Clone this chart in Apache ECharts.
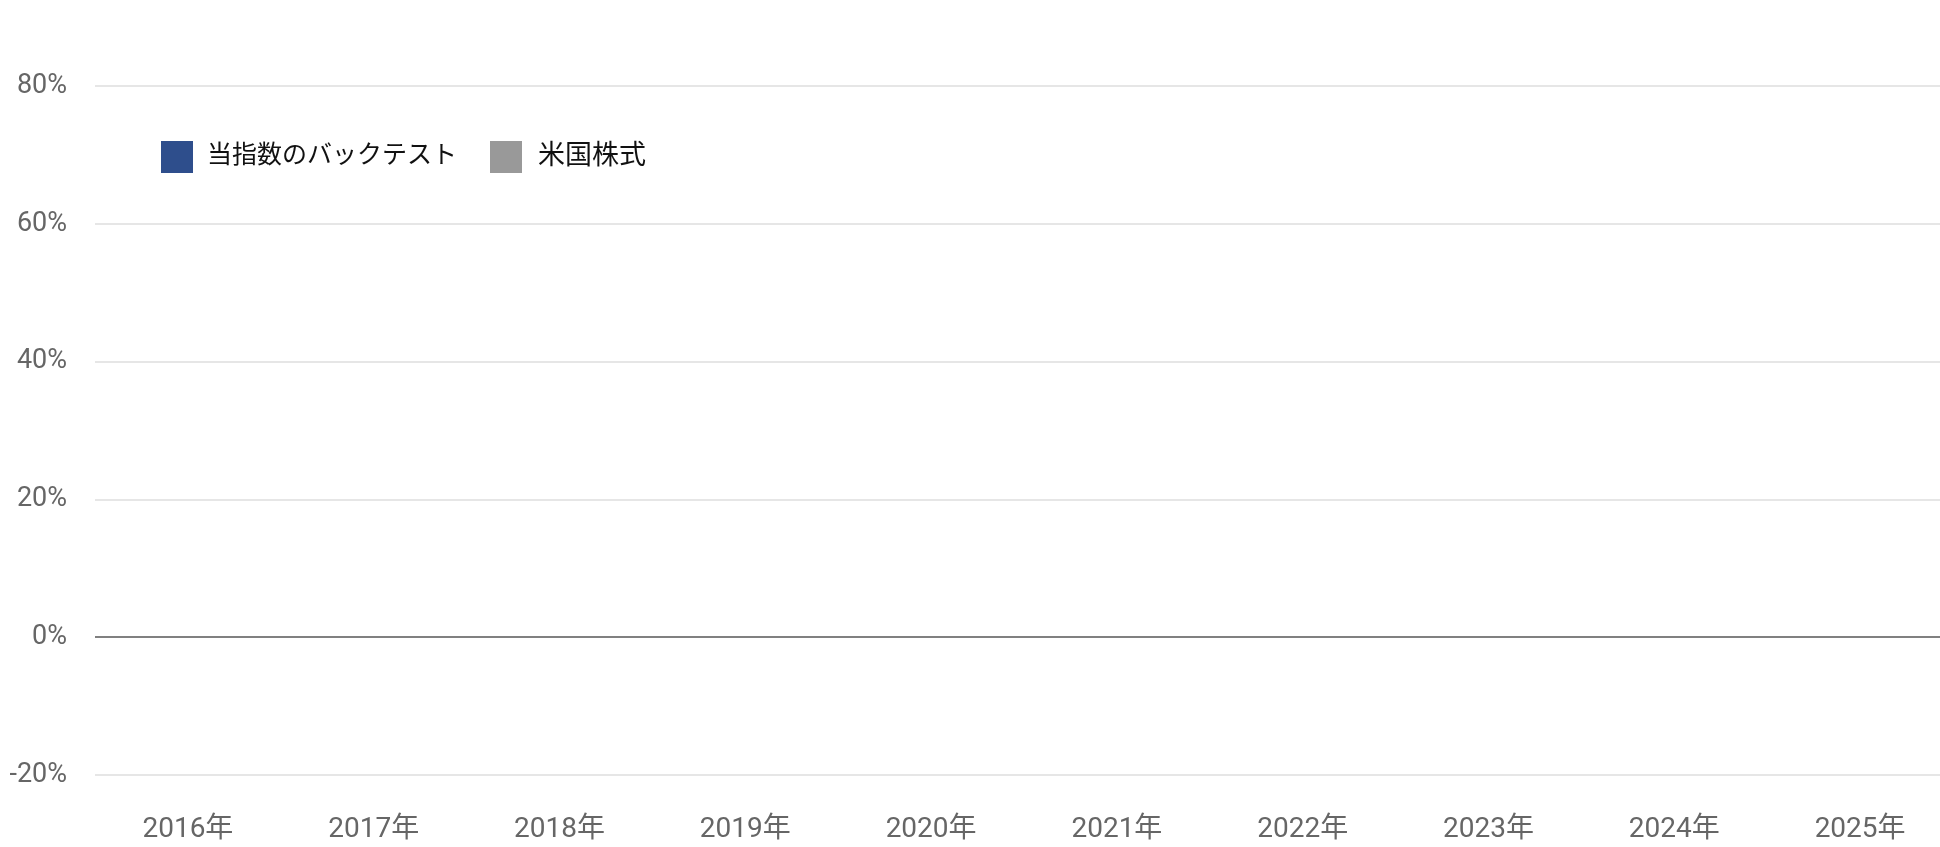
<!DOCTYPE html>
<html>
<head>
<meta charset="utf-8">
<script src="https://cdn.jsdelivr.net/npm/echarts@6/dist/echarts.min.js"></script>
<style>
html,body{margin:0;padding:0;background:#fff;overflow:hidden;}
#chart{width:1953px;height:847px;}
</style>
</head>
<body>
<div id="chart"></div>
<script>
const categories = ['2016年','2017年','2018年','2019年','2020年','2021年','2022年','2023年','2024年','2025年'];
const seriesNames = ['当指数のバックテスト','米国株式'];
// No bars are visible in the reference: every value is empty.
const backtestValues = ['-','-','-','-','-','-','-','-','-','-'];
const usStockValues = ['-','-','-','-','-','-','-','-','-','-'];
const yTicks = [-20, 0, 20, 40, 60, 80];

const chart = echarts.init(document.getElementById('chart'));
const font = 'Roboto, "Noto Sans CJK JP", sans-serif';
chart.setOption({
  animation: false,
  textStyle: { fontFamily: font },
  legend: {
    left: 156, top: 136,
    itemWidth: 32, itemHeight: 32, itemGap: 33,
    icon: 'rect',
    textStyle: { fontSize: 25, color: '#111', fontFamily: font, padding: [0,0,0,9] },
    data: [
      { name: seriesNames[0] },
      { name: seriesNames[1], textStyle: { fontSize: 27, padding: [0,0,0,11] } }
    ]
  },
  grid: { left: 95, right: 0, top: 86, bottom: 72, containLabel: false },
  xAxis: {
    type: 'category',
    data: categories,
    axisLine: { show: false, onZero: false },
    axisTick: { show: false },
    axisLabel: { fontSize: 28, color: '#666', margin: 41, fontFamily: font }
  },
  yAxis: {
    type: 'value',
    min: yTicks[0], max: yTicks[yTicks.length - 1], interval: 20,
    axisLine: { show: false },
    axisTick: { show: false },
    splitLine: { lineStyle: { color: '#e6e6e6', width: 2 } },
    axisLabel: { fontSize: 27, color: '#666', margin: 28, fontFamily: font, formatter: v => v + '%' }
  },
  series: [
    {
      name: seriesNames[0], type: 'bar', data: backtestValues,
      itemStyle: { color: '#2e4e8c' },
      markLine: {
        silent: true, symbol: 'none', label: { show: false },
        lineStyle: { color: '#808080', width: 2, type: 'solid' },
        data: [{ yAxis: 0 }]
      }
    },
    { name: seriesNames[1], type: 'bar', data: usStockValues, itemStyle: { color: '#999999' } }
  ]
});
</script>
</body>
</html>
